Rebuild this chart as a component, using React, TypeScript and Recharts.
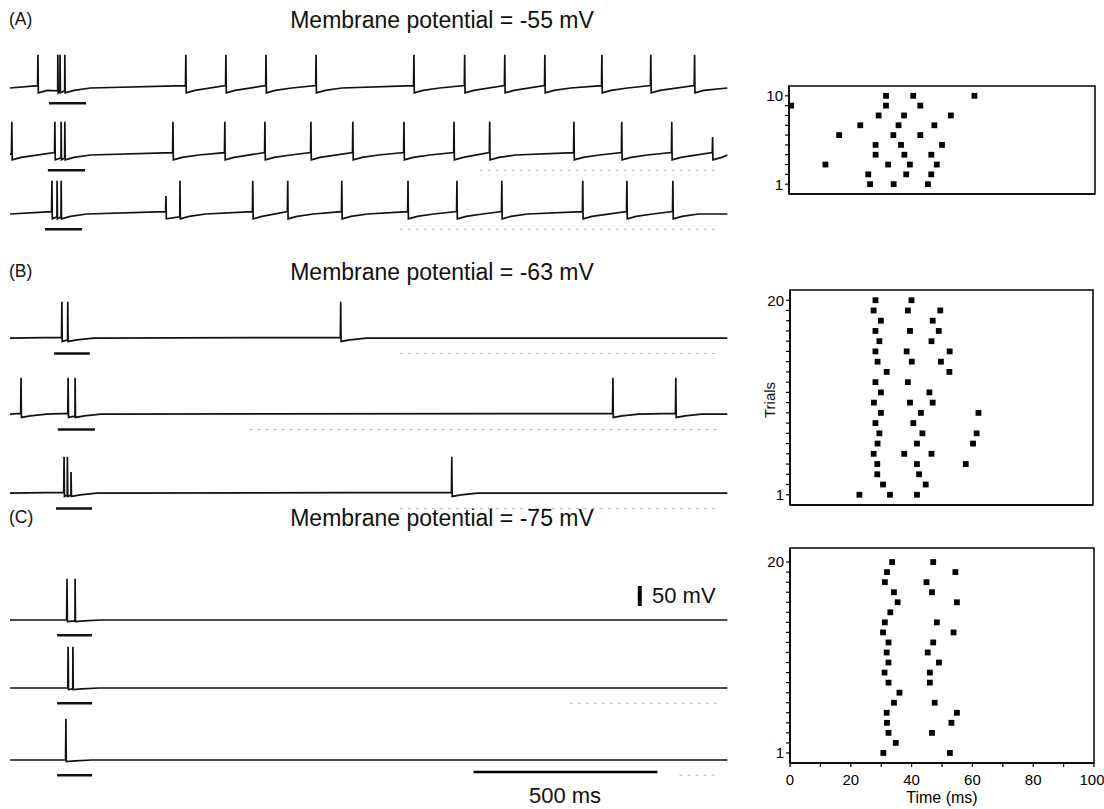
import React from "react";
import {
  Line,
  LineChart,
  ReferenceArea,
  ReferenceLine,
  Scatter,
  ScatterChart,
  XAxis,
  YAxis,
} from "recharts";

const FONT = '"Liberation Sans", Arial, Helvetica, sans-serif';

// resting potential (mV) of each condition
const restA = -55;
const restB = -63;
const restC = -75;
const peakMv = 28;
const shortPeakMv = -10;

// spike times (ms) in each sweep
const spikesA1 = [76, 130, 136, 149, 478, 587, 696, 832, 1098, 1236, 1345, 1454, 1609, 1742, 1861];
const spikesA2 = [5, 122, 139, 149, 443, 584, 693, 818, 932, 1071, 1207, 1304, 1533, 1663, 1799, 1910];
const spikesA3 = [114, 128, 139, 424, 462, 660, 755, 902, 1082, 1215, 1337, 1557, 1677, 1802];
const spikesB1 = [141, 157, 899];
const spikesB2 = [30, 158, 177, 1639, 1810];
const spikesB3 = [147, 156, 166, 1201];
const spikesC1 = [155, 177];
const spikesC2 = [158, 171];
const spikesC3 = [152];

// spikes that are drawn truncated in the recording
const shortA2 = [1910];
const shortA3 = [424];
const shortB3 = [166];

// stimulus on / off (ms)
const stimA1 = [106, 207];
const stimA2 = [103, 204];
const stimA3 = [95, 196];
const stimB1 = [120, 217];
const stimB2 = [130, 231];
const stimB3 = [125, 223];
const stimC = [128, 223];

// raster plots: spike latencies (ms) per trial, trial 1 first
const rasterA = [
  [26.5, 34.2, 45.4],
  [25.9, 38.3, 46.5],
  [11.9, 32.4, 39.5, 48.3],
  [28.3, 37.7, 46.5],
  [28.3, 36.6, 50.0],
  [16.4, 34.1, 42.9],
  [23.3, 35.8, 47.5],
  [29.3, 37.6, 52.9],
  [0.7, 31.7, 42.9],
  [31.7, 40.6, 60.6],
];
const rasterB = [
  [22.9, 33.0, 41.9],
  [30.7, 44.8],
  [28.8, 42.6],
  [28.8, 41.9, 58.0],
  [27.6, 37.7, 46.7],
  [28.9, 41.9, 60.4],
  [29.5, 43.7, 61.6],
  [28.2, 40.7],
  [30.0, 43.2, 62.2],
  [27.7, 39.6, 47.1],
  [30.0, 46.0],
  [28.2, 38.9],
  [31.9, 52.6],
  [28.9, 40.2, 49.8],
  [28.2, 38.5, 52.7],
  [29.5, 46.7],
  [28.2, 39.6, 49.1],
  [30.0, 47.1],
  [27.6, 38.9, 49.6],
  [28.2, 40.1],
];
const rasterC = [
  [30.7, 52.6],
  [34.8],
  [32.4, 46.7],
  [31.9, 53.1],
  [31.8, 54.9],
  [34.2, 47.6],
  [36.0],
  [32.4, 46.0],
  [31.1, 46.0],
  [32.4, 49.0],
  [31.8, 45.3],
  [32.4, 47.1],
  [30.6, 53.8],
  [31.2, 48.3],
  [33.0],
  [35.4, 54.9],
  [34.2, 46.7],
  [31.2, 44.9],
  [31.9, 54.4],
  [33.6, 47.1],
];

const timeTicks = [0, 10, 20, 30, 40, 50, 60, 70, 80, 90, 100];

const END = 1950;
const T_MAX = 1960;
const V_MAX = 40;
const V_MIN = -130;
const PX_MV = 0.4;
const BAR_DROP = 38;

type Pt = { t: number; v: number };

function buildTrace(spikes: number[], short: number[], rest: number, ahp: number, ramp: number): Pt[] {
  const pts: Pt[] = [{ t: 0, v: rest }];
  spikes.forEach((s, i) => {
    const prev = i > 0 ? spikes[i - 1] : -Infinity;
    const next = i < spikes.length - 1 ? spikes[i + 1] : END + 1;
    if (s - prev > 80) pts.push({ t: s - 1, v: rest + ramp });
    else pts.push({ t: s - 0.4, v: rest - ahp * 0.6 });
    pts.push({ t: s, v: short.includes(s) ? shortPeakMv : peakMv });
    pts.push({ t: s + 1, v: rest - ahp });
    if (next - s > 40) pts.push({ t: s + 25, v: rest - ahp * 0.5 });
    if (next - s > 120) pts.push({ t: s + 70, v: rest });
  });
  pts.push({ t: END, v: rest });
  return pts;
}

type SweepDef = {
  spikes: number[];
  short: number[];
  rest: number;
  stim: number[];
  y: number;
  ahp: number;
  ramp: number;
  faint?: number[];
};

const sweeps: SweepDef[] = [
  { spikes: spikesA1, short: [], rest: restA, stim: stimA1, y: 88, ahp: 12, ramp: 6 },
  { spikes: spikesA2, short: shortA2, rest: restA, stim: stimA2, y: 155, ahp: 12, ramp: 6, faint: [1277, 1929] },
  { spikes: spikesA3, short: shortA3, rest: restA, stim: stimA3, y: 214, ahp: 12, ramp: 6, faint: [1060, 1929] },
  { spikes: spikesB1, short: [], rest: restB, stim: stimB1, y: 338, ahp: 8, ramp: 2, faint: [1060, 1929] },
  { spikes: spikesB2, short: [], rest: restB, stim: stimB2, y: 414, ahp: 8, ramp: 2, faint: [652, 1929] },
  { spikes: spikesB3, short: shortB3, rest: restB, stim: stimB3, y: 493, ahp: 8, ramp: 2, faint: [1060, 1929] },
  { spikes: spikesC1, short: [], rest: restC, stim: stimC, y: 620, ahp: 4, ramp: 0 },
  { spikes: spikesC2, short: [], rest: restC, stim: stimC, y: 688, ahp: 4, ramp: 0, faint: [1522, 1929] },
  { spikes: spikesC3, short: [], rest: restC, stim: stimC, y: 760, ahp: 4, ramp: 0, faint: [1820, 1929] },
];

function Sweep({ sw, index }: { sw: SweepDef; index: number }) {
  const top = sw.y - (V_MAX - sw.rest) * PX_MV;
  const trace = buildTrace(sw.spikes, sw.short, sw.rest, sw.ahp, sw.ramp);
  const barV = sw.rest - BAR_DROP;
  const stimLine = [
    { t: sw.stim[0], v: barV },
    { t: sw.stim[1], v: barV },
  ];
  return (
    <div style={{ position: "absolute", left: 10, top }}>
      <LineChart width={721} height={(V_MAX - V_MIN) * PX_MV} margin={{ top: 0, right: 0, bottom: 0, left: 0 }}>
        <XAxis type="number" dataKey="t" domain={[0, T_MAX]} hide allowDataOverflow />
        <YAxis type="number" domain={[V_MIN, V_MAX]} hide allowDataOverflow />
        {sw.faint && (
          <ReferenceLine
            segment={[
              { x: sw.faint[0], y: barV },
              { x: sw.faint[1], y: barV },
            ]}
            stroke="#b5b5b5"
            strokeDasharray="3 5"
          />
        )}
        <Line data={trace} dataKey="v" type="linear" stroke="#111" strokeWidth={1.7} dot={false} isAnimationActive={false} />
        <Line data={stimLine} dataKey="v" type="linear" stroke="#111" strokeWidth={2.5} dot={false} isAnimationActive={false} />
        {index === 6 && (
          <ReferenceLine
            segment={[
              { x: 1712, y: -40 },
              { x: 1712, y: 10 },
            ]}
            stroke="#000"
            strokeWidth={4}
          />
        )}
        {index === 8 && (
          <ReferenceLine
            segment={[
              { x: 1260, y: -105 },
              { x: 1760, y: -105 },
            ]}
            stroke="#000"
            strokeWidth={2.5}
          />
        )}
      </LineChart>
    </div>
  );
}

type RasterDef = {
  rows: number[][];
  left: number;
  top: number;
  plotW: number;
  plotH: number;
  yMax: number;
  showTime: boolean;
};

const Square = (p: any) => <rect x={p.cx - 2.9} y={p.cy - 2.9} width={5.8} height={5.8} fill="#000" />;

const TimeTick = (p: any) => {
  const v = p.payload.value;
  if (v % 20 !== 0) return <g />;
  const dx = v === 100 ? -2 : 0;
  return (
    <text x={p.x + dx} y={p.y} dy="0.71em" textAnchor="middle" fill="#000" fontSize={15} fontFamily={FONT}>
      {v}
    </text>
  );
};

function Raster({ r }: { r: RasterDef }) {
  const data = r.rows.flatMap((ts, i) => ts.map((t) => ({ t, trial: i + 1 })));
  const n = r.rows.length;
  const trialTicks = r.rows.map((_, i) => i + 1);
  const xH = r.showTime ? 46 : 8;
  const rightPad = 1104 - r.left - r.plotW;
  const tickStyle = { fill: "#000", fontSize: 15, fontFamily: FONT };
  return (
    <div style={{ position: "absolute", left: r.left - 30, top: r.top - 6 }}>
      <ScatterChart
        width={30 + r.plotW + rightPad}
        height={6 + r.plotH + xH}
        margin={{ top: 6, right: rightPad, bottom: 0, left: 0 }}
      >
        <XAxis
          type="number"
          dataKey="t"
          domain={[0, 100]}
          ticks={timeTicks}
          interval={0}
          height={xH}
          tickSize={4}
          tickMargin={7}
          axisLine={{ stroke: "#000", strokeWidth: 1.5 }}
          tickLine={{ stroke: "#000", strokeWidth: 1.2 }}
          tick={r.showTime ? TimeTick : false}
          label={
            r.showTime
              ? { value: "Time (ms)", position: "insideBottom", offset: 6, fill: "#000", fontSize: 16, fontFamily: FONT }
              : undefined
          }
        />
        <YAxis
          type="number"
          dataKey="trial"
          domain={[0, r.yMax]}
          ticks={trialTicks}
          interval={0}
          width={30}
          tickSize={4}
          tickMargin={2}
          axisLine={{ stroke: "#000", strokeWidth: 1.5 }}
          tickLine={{ stroke: "#000", strokeWidth: 1.2 }}
          tick={tickStyle}
          tickFormatter={(v: number) => (v === 1 || v === n ? String(v) : "")}
        />
        <ReferenceArea x1={0} x2={100} y1={0} y2={r.yMax} fill="none" stroke="#000" strokeWidth={1.5} />
        <Scatter data={data} shape={Square} isAnimationActive={false} />
      </ScatterChart>
    </div>
  );
}

const rasters: RasterDef[] = [
  { rows: rasterA, left: 789, top: 86, plotW: 306, plotH: 108, yMax: 11, showTime: false },
  { rows: rasterB, left: 790, top: 290, plotW: 303, plotH: 215, yMax: 21, showTime: false },
  { rows: rasterC, left: 790, top: 548, plotW: 304, plotH: 215, yMax: 21.4, showTime: true },
];

const panelLabels = [
  { tag: "(A)", title: "Membrane potential = -55 mV", y: 20 },
  { tag: "(B)", title: "Membrane potential = -63 mV", y: 272 },
  { tag: "(C)", title: "Membrane potential = -75 mV", y: 518 },
];

const textBase: React.CSSProperties = {
  position: "absolute",
  fontFamily: FONT,
  color: "#111",
  lineHeight: 1,
  whiteSpace: "nowrap",
};

export default function App() {
  return (
    <div
      style={{
        position: "absolute",
        left: 0,
        top: 0,
        width: 1104,
        height: 809,
        background: "#fff",
        overflow: "hidden",
      }}
    >
      {panelLabels.map((p) => (
        <React.Fragment key={p.tag}>
          <div style={{ ...textBase, left: 9, top: p.y, fontSize: 17.5, transform: "translateY(-50%)" }}>{p.tag}</div>
          <div style={{ ...textBase, left: 442, top: p.y, fontSize: 23, transform: "translate(-50%, -50%)" }}>{p.title}</div>
        </React.Fragment>
      ))}
      {sweeps.map((sw, i) => (
        <Sweep key={i} sw={sw} index={i} />
      ))}
      <div style={{ ...textBase, left: 652, top: 596, fontSize: 22, transform: "translateY(-50%)" }}>50 mV</div>
      <div style={{ ...textBase, left: 565, top: 796, fontSize: 22, transform: "translate(-50%, -50%)" }}>500 ms</div>
      {rasters.map((r, i) => (
        <Raster key={i} r={r} />
      ))}
      <div
        style={{
          ...textBase,
          left: 769,
          top: 400,
          fontSize: 15,
          transform: "translate(-50%, -50%) rotate(-90deg)",
        }}
      >
        Trials
      </div>
    </div>
  );
}
